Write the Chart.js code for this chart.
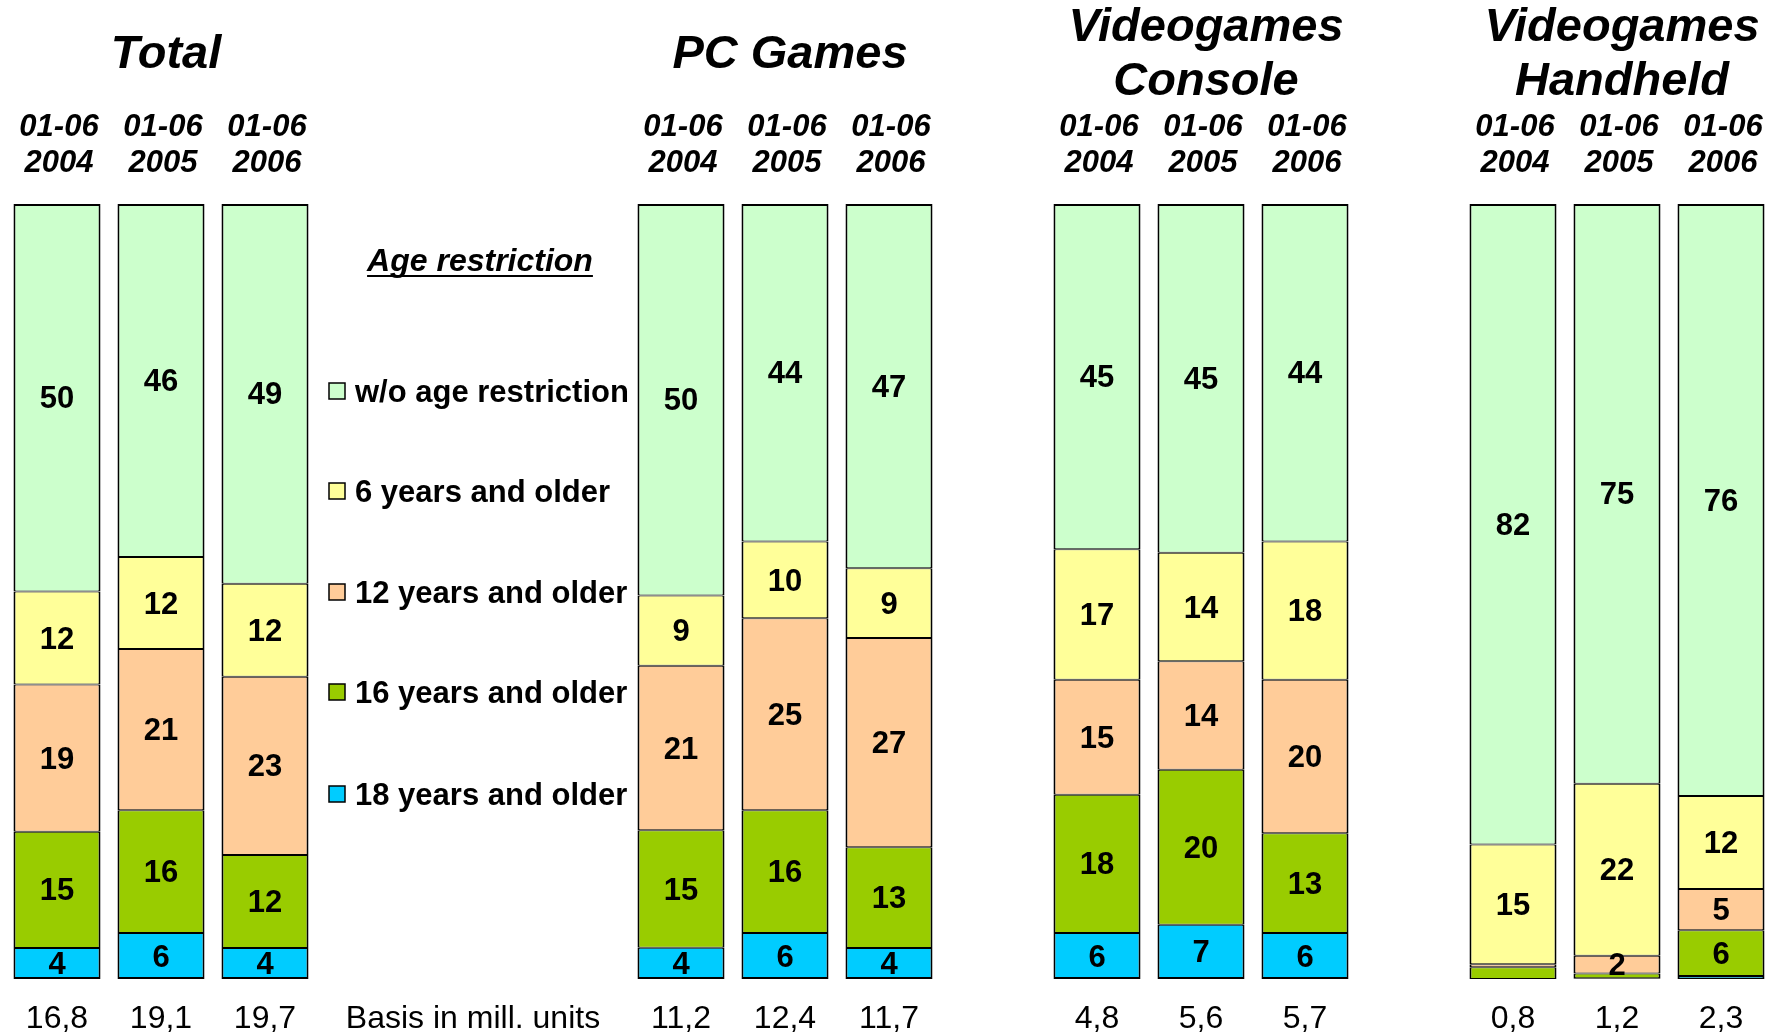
<!DOCTYPE html>
<html>
<head>
<meta charset="utf-8">
<script src="https://cdn.jsdelivr.net/npm/chart.js@4.4.0/dist/chart.umd.min.js"></script>
<style>
  body { margin: 0; background: #fff; }
</style>
</head>
<body>
<canvas id="myChart" width="1778" height="1035"></canvas>
<script>
// chart values
const groupTitles = [['Total'], ['PC Games'], ['Videogames', 'Console'], ['Videogames', 'Handheld']];
const periods = [['01-06', '2004'], ['01-06', '2005'], ['01-06', '2006']];
const basis = ['16,8', '19,1', '19,7', '11,2', '12,4', '11,7', '4,8', '5,6', '5,7', '0,8', '1,2', '2,3'];
const basisLabel = 'Basis in mill. units';
const legendTitle = 'Age restriction';
const seriesNames = ['w/o age restriction', '6 years and older', '12 years and older', '16 years and older', '18 years and older'];

// shares in %, bars in order Total, PC Games, Console, Handheld (2004, 2005, 2006 each)
const noRestriction = [50, 46, 49, 50, 44, 47, 45, 45, 44, 82.4, 74.8, 76.4];
const age6 = [12, 12, 12, 9, 10, 9, 17, 14, 18, 15.4, 22.2, 12];
const age12 = [19, 21, 23, 21, 25, 27, 15, 14, 20, 0.4, 2.3, 5.3];
const age16 = [15, 16, 12, 15, 16, 13, 18, 20, 13, 1.5, 0.6, 5.9];
const age18 = [4, 6, 4, 4, 6, 4, 6, 7, 6, 0, 0.1, 0.4];

const seriesColors = ['#CCFFCC', '#FFFF99', '#FFCC99', '#99CC00', '#00CCFF'];

// every bar sits in one of 17 slots, the others stay empty
const slots = [0, 1, 2, 6, 7, 8, 10, 11, 12, 14, 15, 16];
const slotCount = 17;
const basisSlot = 4;

const allSeries = [noRestriction, age6, age12, age16, age18];
const totals = basis.map((b, k) => allSeries.reduce((s, arr) => s + arr[k], 0));

let labels = new Array(slotCount).fill('');
slots.forEach((s, k) => labels[s] = basis[k]);
labels[basisSlot] = basisLabel;

function toSlots(arr, scale) {
  let out = new Array(slotCount).fill(null);
  slots.forEach((s, k) => out[s] = scale ? arr[k] / totals[k] * 100 : arr[k]);
  return out;
}

// bottom of stack first
let datasets = [];
for (let i = allSeries.length - 1; i >= 0; i--) {
  datasets.push({
    label: seriesNames[i],
    data: toSlots(allSeries[i], true),
    shares: toSlots(allSeries[i], false),
    backgroundColor: seriesColors[i],
    borderColor: '#000',
    borderWidth: {
      left: 2,
      right: 2,
      top: i == 0 ? 2 : 1,
      bottom: i == allSeries.length - 1 ? 2 : 1
    },
    borderSkipped: false,
    barPercentage: 0.837,
    categoryPercentage: 1
  });
}

const FONT = '"Liberation Sans", Arial, sans-serif';

const valueLabels = {
  id: 'valueLabels',
  afterDatasetsDraw(chart) {
    const ctx = chart.ctx;
    ctx.save();
    ctx.font = 'bold 31px ' + FONT;
    ctx.fillStyle = '#000';
    ctx.textAlign = 'center';
    ctx.textBaseline = 'middle';
    chart.data.datasets.forEach((ds, i) => {
      chart.getDatasetMeta(i).data.forEach((bar, k) => {
        const v = ds.shares[k];
        if (v == null || v < 2) return;
        ctx.fillText(Math.round(v), bar.x, (bar.y + bar.base) / 2 + 2);
      });
    });
    ctx.restore();
  }
};

const headers = {
  id: 'headers',
  afterDraw(chart) {
    const ctx = chart.ctx;
    const x = chart.scales.x;
    ctx.save();
    ctx.fillStyle = '#000';
    ctx.textAlign = 'center';
    ctx.textBaseline = 'middle';
    ctx.font = 'italic bold 47px ' + FONT;
    groupTitles.forEach((t, g) => {
      const cx = x.getPixelForValue(slots[g * 3 + 1]) + 5;
      if (t.length == 1) {
        ctx.fillText(t[0], cx, 55);
      } else {
        ctx.fillText(t[0], cx, 28);
        ctx.fillText(t[1], cx, 82);
      }
    });
    ctx.font = 'italic bold 31px ' + FONT;
    slots.forEach((s, k) => {
      const p = periods[k % 3];
      const cx = x.getPixelForValue(s) + 2;
      ctx.fillText(p[0], cx, 127);
      ctx.fillText(p[1], cx, 163);
    });
    ctx.restore();
  }
};

const sideLegend = {
  id: 'sideLegend',
  afterDraw(chart) {
    const ctx = chart.ctx;
    ctx.save();
    ctx.fillStyle = '#000';
    ctx.textBaseline = 'middle';
    ctx.textAlign = 'center';
    ctx.font = 'italic bold 32px ' + FONT;
    ctx.fillText(legendTitle, 480, 262);
    const w = ctx.measureText(legendTitle).width;
    ctx.fillRect(480 - w / 2, 275, w, 2);

    const rows = [391, 491, 592, 692, 794];
    ctx.textAlign = 'left';
    ctx.font = 'bold 31px ' + FONT;
    seriesNames.forEach((name, i) => {
      ctx.fillStyle = seriesColors[i];
      ctx.fillRect(329, rows[i] - 8, 16, 16);
      ctx.strokeStyle = '#000';
      ctx.lineWidth = 1.5;
      ctx.strokeRect(329, rows[i] - 8, 16, 16);
      ctx.fillStyle = '#000';
      ctx.fillText(name, 355, rows[i] + 2);
    });
    ctx.restore();
  }
};

const ctx = document.getElementById('myChart').getContext('2d');
const myChart = new Chart(ctx, {
  type: 'bar',
  data: { labels: labels, datasets: datasets },
  options: {
    responsive: false,
    animation: false,
    layout: { padding: { top: 204, left: 5, right: 5, bottom: 0 } },
    plugins: {
      legend: { display: false },
      tooltip: { enabled: false }
    },
    scales: {
      x: {
        stacked: true,
        grid: { display: false, drawTicks: false },
        border: { display: false },
        ticks: {
          autoSkip: false,
          maxRotation: 0,
          padding: 21,
          color: '#000',
          font: { family: FONT, size: 32 }
        },
        afterFit(scale) { scale.height = 56; }
      },
      y: { stacked: true, display: false, min: 0, max: 100 }
    }
  },
  plugins: [valueLabels, headers, sideLegend]
});
</script>
</body>
</html>
